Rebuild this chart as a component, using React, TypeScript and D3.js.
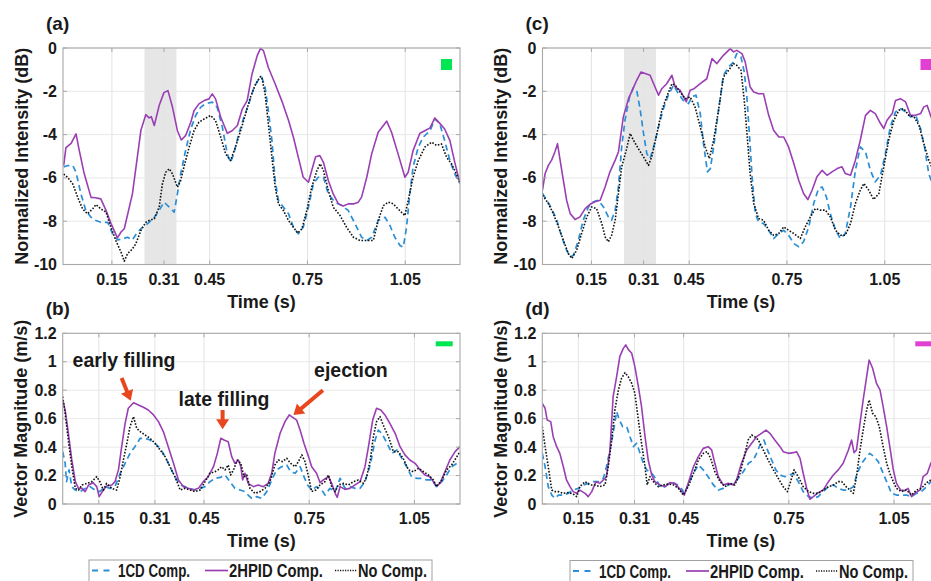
import React from "react";
import * as d3 from "d3";

const FONT = '"Liberation Sans", Arial, Helvetica, sans-serif';
const C_1CD = "#2a8fd6";
const C_2HPID = "#9a3fb3";
const C_NO = "#111111";
const C_ARROW = "#e8461e";
const TXT = "#1a1a1a";

// ---- axes ----
const xTicks = [0.15, 0.31, 0.45, 0.75, 1.05];
const xTickLabels = ["0.15", "0.31", "0.45", "0.75", "1.05"];
const xDomainTop = [0, 1.218];
const xDomainBottom = [0.047, 1.18];
const yTicksTop = [0, -2, -4, -6, -8, -10];
const yTickLabelsTop = ["0", "-2", "-4", "-6", "-8", "-10"];
const yTicksBottom = [0, 0.2, 0.4, 0.6, 0.8, 1, 1.2];
const yTickLabelsBottom = ["0", "0.2", "0.4", "0.6", "0.8", "1", "1.2"];
const shadedBand = [0.25, 0.348];
const seriesNames = ["1CD Comp.", "2HPID Comp.", "No Comp."];

// ---- panel (a): normalized intensity, green region ----
const a_1CD = [[0.002,-5.5],[0.014,-5.43],[0.03,-5.43],[0.04,-5.74],[0.055,-6.74],[0.07,-7.5],[0.086,-7.82],[0.101,-7.97],[0.116,-8.05],[0.137,-8.05],[0.152,-8.58],[0.167,-8.86],[0.183,-8.82],[0.198,-8.74],[0.213,-8.86],[0.229,-8.5],[0.244,-8.28],[0.259,-8.12],[0.28,-7.82],[0.295,-7.5],[0.31,-7.12],[0.326,-7.35],[0.341,-7.58],[0.351,-6.74],[0.361,-5.82],[0.376,-4.74],[0.392,-3.74],[0.407,-3.12],[0.422,-2.74],[0.437,-2.58],[0.458,-2.5],[0.473,-2.74],[0.489,-3.66],[0.504,-4.89],[0.514,-5.28],[0.524,-4.89],[0.539,-3.97],[0.555,-3.2],[0.57,-2.58],[0.586,-1.82],[0.601,-1.43],[0.61,-1.35],[0.62,-1.82],[0.63,-2.89],[0.641,-4.28],[0.651,-6.12],[0.661,-7.05],[0.676,-7.35],[0.692,-7.66],[0.707,-8.28],[0.722,-8.58],[0.737,-8.28],[0.753,-7.35],[0.768,-6.28],[0.783,-5.97],[0.799,-5.97],[0.814,-6.74],[0.834,-7.12],[0.855,-7.28],[0.875,-7.5],[0.896,-8.12],[0.916,-8.74],[0.932,-8.89],[0.947,-8.74],[0.967,-7.97],[0.988,-7.82],[1.003,-8.2],[1.018,-8.74],[1.034,-9.12],[1.044,-9.2],[1.054,-8.28],[1.064,-6.74],[1.074,-5.5],[1.09,-4.58],[1.105,-4.12],[1.126,-3.82],[1.141,-3.28],[1.156,-3.5],[1.171,-4.28],[1.187,-5.2],[1.202,-5.82],[1.217,-6.25]];
const a_2HPID = [[0.002,-5.43],[0.009,-4.6],[0.025,-4.4],[0.04,-3.97],[0.05,-4.74],[0.065,-5.8],[0.086,-6.9],[0.1,-6.92],[0.116,-6.97],[0.132,-7.5],[0.147,-8.1],[0.167,-8.77],[0.178,-8.5],[0.188,-8.35],[0.213,-6.74],[0.239,-3.8],[0.254,-3.08],[0.264,-3.23],[0.271,-3.17],[0.28,-3.58],[0.295,-2.66],[0.31,-2.05],[0.322,-1.97],[0.336,-2.74],[0.351,-3.82],[0.363,-4.25],[0.376,-4.05],[0.392,-3.43],[0.402,-2.9],[0.417,-2.58],[0.433,-2.43],[0.448,-2.35],[0.458,-2.12],[0.468,-2.35],[0.484,-3.2],[0.504,-3.94],[0.519,-3.82],[0.535,-3.58],[0.55,-2.82],[0.565,-2.43],[0.58,-1.2],[0.596,-0.35],[0.606,-0.02],[0.615,-0.12],[0.63,-0.9],[0.651,-1.66],[0.671,-2.43],[0.692,-3.35],[0.707,-4.12],[0.722,-5.05],[0.737,-5.97],[0.753,-6.2],[0.763,-5.66],[0.775,-5.02],[0.788,-4.97],[0.799,-5.28],[0.814,-6.12],[0.829,-6.74],[0.845,-7.2],[0.86,-7.3],[0.875,-7.2],[0.891,-7.2],[0.906,-7.12],[0.916,-6.89],[0.932,-5.97],[0.947,-4.89],[0.967,-3.89],[0.993,-3.38],[1.008,-3.89],[1.028,-4.89],[1.049,-5.97],[1.059,-5.74],[1.074,-4.74],[1.095,-3.94],[1.11,-3.82],[1.126,-3.69],[1.141,-3.23],[1.156,-3.48],[1.171,-3.74],[1.187,-4.28],[1.202,-5.28],[1.217,-6.2]];
const a_No = [[0.002,-5.82],[0.014,-5.97],[0.03,-6.28],[0.045,-6.89],[0.06,-7.43],[0.075,-7.66],[0.091,-7.43],[0.101,-7.23],[0.116,-7.43],[0.132,-7.58],[0.147,-8.28],[0.162,-8.89],[0.178,-9.43],[0.188,-9.85],[0.198,-9.5],[0.213,-9.28],[0.223,-9.05],[0.239,-8.43],[0.254,-8.05],[0.264,-7.97],[0.28,-7.89],[0.295,-7.35],[0.305,-6.28],[0.315,-5.74],[0.326,-5.58],[0.336,-5.82],[0.351,-6.43],[0.361,-6.12],[0.371,-5.5],[0.387,-4.58],[0.402,-3.82],[0.417,-3.43],[0.433,-3.28],[0.453,-3.12],[0.468,-3.35],[0.484,-4.12],[0.499,-4.89],[0.514,-5.2],[0.529,-4.58],[0.545,-3.82],[0.56,-3.05],[0.575,-2.28],[0.591,-1.66],[0.606,-1.32],[0.61,-1.35],[0.62,-2.12],[0.63,-3.5],[0.641,-5.05],[0.651,-6.43],[0.661,-7.2],[0.676,-7.5],[0.692,-7.97],[0.707,-8.28],[0.72,-8.55],[0.733,-8.35],[0.748,-7.5],[0.763,-6.43],[0.779,-5.66],[0.789,-5.35],[0.799,-5.66],[0.814,-6.58],[0.829,-7.35],[0.85,-7.74],[0.87,-8.28],[0.891,-8.74],[0.911,-8.89],[0.932,-8.89],[0.952,-8.89],[0.967,-7.97],[0.983,-7.28],[0.998,-7.12],[1.013,-7.2],[1.028,-7.43],[1.049,-7.74],[1.059,-7.05],[1.074,-5.97],[1.09,-5.2],[1.11,-4.58],[1.131,-4.35],[1.146,-4.5],[1.161,-4.43],[1.177,-5.05],[1.192,-5.35],[1.207,-5.82],[1.217,-6.2]];

// ---- panel (c): normalized intensity, magenta region ----
const c_1CD = [[0,-6.72],[0.013,-7.03],[0.028,-7.42],[0.044,-7.95],[0.059,-8.72],[0.074,-9.34],[0.085,-9.65],[0.095,-9.57],[0.11,-8.88],[0.125,-7.95],[0.141,-7.34],[0.156,-7.1],[0.171,-7.03],[0.187,-7.34],[0.202,-7.8],[0.212,-7.95],[0.223,-7.49],[0.233,-6.42],[0.243,-4.57],[0.253,-3.34],[0.267,-2.26],[0.279,-1.83],[0.289,-1.95],[0.3,-2.88],[0.31,-3.95],[0.32,-4.88],[0.33,-5.11],[0.341,-4.57],[0.356,-3.65],[0.371,-2.8],[0.386,-2.18],[0.402,-1.72],[0.417,-2.11],[0.432,-2.42],[0.448,-2.57],[0.458,-2.26],[0.471,-2.18],[0.484,-3.03],[0.494,-4.42],[0.506,-5.72],[0.515,-5.57],[0.525,-4.57],[0.54,-2.88],[0.555,-1.26],[0.571,-0.88],[0.586,-0.65],[0.596,-0.26],[0.609,-0.42],[0.619,-1.11],[0.627,-2.26],[0.636,-4.26],[0.643,-5.95],[0.653,-7.65],[0.663,-8.03],[0.678,-8.11],[0.694,-8.42],[0.709,-8.8],[0.725,-8.57],[0.74,-8.42],[0.755,-8.65],[0.771,-9.03],[0.786,-9.18],[0.801,-8.95],[0.817,-8.26],[0.832,-7.18],[0.847,-6.49],[0.858,-6.42],[0.871,-6.88],[0.883,-7.65],[0.899,-8.42],[0.914,-8.8],[0.929,-8.57],[0.945,-7.34],[0.96,-5.65],[0.975,-4.57],[0.991,-4.8],[1.006,-5.65],[1.021,-6.18],[1.037,-5.88],[1.052,-4.88],[1.067,-3.65],[1.083,-2.95],[1.098,-2.8],[1.114,-2.95],[1.129,-3.18],[1.145,-3.11],[1.16,-3.72],[1.172,-4.57],[1.185,-5.8],[1.194,-6.18],[1.218,-6.6]];
const c_2HPID = [[0,-6.57],[0.008,-5.8],[0.018,-5.42],[0.028,-5.18],[0.038,-4.8],[0.046,-4.42],[0.054,-5.18],[0.064,-6.11],[0.074,-7.03],[0.085,-7.65],[0.1,-7.92],[0.115,-7.8],[0.131,-7.42],[0.146,-7.22],[0.161,-7.1],[0.177,-7.03],[0.192,-6.42],[0.207,-5.72],[0.223,-5.18],[0.233,-4.8],[0.248,-3.18],[0.264,-2.34],[0.279,-1.83],[0.289,-1.49],[0.302,-1.11],[0.315,-1.18],[0.33,-1.26],[0.341,-1.65],[0.356,-2.18],[0.366,-1.88],[0.381,-1.65],[0.397,-1.26],[0.407,-1.8],[0.422,-1.95],[0.441,-2.49],[0.453,-1.95],[0.465,-1.88],[0.484,-1.65],[0.504,-1.42],[0.52,-0.49],[0.535,-0.72],[0.555,-0.34],[0.576,-0.03],[0.586,-0.18],[0.596,-0.11],[0.612,-0.26],[0.622,-0.65],[0.637,-1.8],[0.648,-2.03],[0.663,-2.11],[0.678,-2.11],[0.694,-3.11],[0.709,-3.8],[0.725,-4.11],[0.74,-4.11],[0.755,-4.57],[0.771,-5.34],[0.786,-6.11],[0.801,-6.72],[0.814,-7.0],[0.827,-6.57],[0.842,-5.95],[0.858,-5.65],[0.873,-5.88],[0.888,-5.72],[0.904,-5.57],[0.919,-5.49],[0.929,-5.8],[0.945,-5.88],[0.96,-5.18],[0.975,-4.26],[0.991,-3.11],[1.006,-2.88],[1.021,-3.03],[1.037,-3.49],[1.047,-3.72],[1.057,-3.34],[1.073,-3.03],[1.083,-2.42],[1.098,-2.34],[1.114,-2.49],[1.129,-3.11],[1.145,-3.11],[1.16,-3.03],[1.17,-2.72],[1.18,-2.65],[1.194,-3.26],[1.218,-4.4]];
const c_No = [[0,-6.8],[0.018,-7.18],[0.033,-7.65],[0.049,-8.26],[0.064,-8.88],[0.079,-9.49],[0.09,-9.72],[0.105,-9.34],[0.12,-8.57],[0.136,-7.8],[0.151,-7.34],[0.166,-7.42],[0.182,-8.11],[0.192,-8.72],[0.202,-8.95],[0.212,-8.65],[0.223,-7.95],[0.233,-6.72],[0.243,-5.49],[0.257,-4.72],[0.269,-3.95],[0.279,-4.26],[0.294,-4.65],[0.31,-5.03],[0.325,-5.42],[0.335,-5.03],[0.351,-3.95],[0.366,-2.88],[0.381,-2.26],[0.397,-1.65],[0.407,-1.72],[0.422,-2.03],[0.438,-2.34],[0.453,-2.26],[0.468,-2.72],[0.484,-3.65],[0.499,-4.57],[0.512,-5.11],[0.525,-4.26],[0.54,-2.88],[0.555,-1.34],[0.571,-1.03],[0.586,-0.72],[0.596,-0.8],[0.609,-1.03],[0.619,-2.42],[0.629,-4.26],[0.637,-5.8],[0.648,-7.18],[0.663,-7.88],[0.678,-7.95],[0.694,-8.42],[0.709,-8.65],[0.725,-8.57],[0.74,-8.26],[0.755,-8.42],[0.771,-8.57],[0.791,-8.8],[0.806,-8.26],[0.822,-7.8],[0.837,-7.42],[0.853,-7.49],[0.868,-7.49],[0.883,-7.8],[0.899,-8.42],[0.914,-8.65],[0.929,-8.65],[0.945,-8.11],[0.96,-7.18],[0.975,-6.57],[0.986,-6.26],[1.001,-6.57],[1.016,-7.0],[1.032,-6.72],[1.047,-5.49],[1.062,-4.26],[1.078,-3.34],[1.093,-2.88],[1.108,-2.8],[1.124,-3.11],[1.14,-3.18],[1.155,-3.57],[1.17,-4.42],[1.185,-5.18],[1.194,-5.49],[1.218,-6.2]];

// ---- panel (b): vector magnitude, green region ----
const b_1CD = [[0.047,0.368],[0.054,0.286],[0.058,0.157],[0.065,0.24],[0.073,0.122],[0.083,0.098],[0.097,0.087],[0.111,0.11],[0.125,0.122],[0.139,0.098],[0.153,0.087],[0.168,0.122],[0.182,0.11],[0.196,0.122],[0.211,0.216],[0.225,0.286],[0.239,0.356],[0.253,0.403],[0.268,0.462],[0.282,0.462],[0.296,0.45],[0.31,0.427],[0.325,0.391],[0.339,0.333],[0.353,0.262],[0.367,0.192],[0.382,0.134],[0.396,0.122],[0.41,0.11],[0.424,0.098],[0.439,0.11],[0.453,0.122],[0.467,0.157],[0.481,0.18],[0.496,0.187],[0.51,0.204],[0.524,0.157],[0.538,0.11],[0.553,0.098],[0.567,0.087],[0.576,0.063],[0.586,0.04],[0.6,0.052],[0.614,0.04],[0.629,0.087],[0.643,0.169],[0.657,0.24],[0.671,0.262],[0.686,0.274],[0.697,0.227],[0.71,0.216],[0.724,0.262],[0.735,0.192],[0.745,0.134],[0.757,0.098],[0.771,0.122],[0.786,0.098],[0.795,0.063],[0.809,0.11],[0.824,0.087],[0.838,0.18],[0.852,0.11],[0.866,0.122],[0.881,0.11],[0.895,0.11],[0.909,0.157],[0.924,0.274],[0.938,0.45],[0.947,0.52],[0.957,0.497],[0.972,0.427],[0.986,0.356],[1.0,0.38],[1.014,0.321],[1.028,0.262],[1.042,0.192],[1.057,0.18],[1.071,0.18],[1.085,0.169],[1.099,0.169],[1.113,0.122],[1.128,0.157],[1.142,0.204],[1.156,0.262],[1.171,0.286],[1.18,0.29]];
const b_2HPID = [[0.047,0.73],[0.054,0.66],[0.063,0.5],[0.073,0.31],[0.083,0.157],[0.092,0.11],[0.102,0.11],[0.111,0.087],[0.121,0.134],[0.134,0.15],[0.144,0.122],[0.151,0.052],[0.163,0.098],[0.172,0.127],[0.187,0.134],[0.196,0.157],[0.206,0.24],[0.215,0.4],[0.225,0.567],[0.234,0.673],[0.249,0.712],[0.263,0.696],[0.277,0.68],[0.291,0.661],[0.306,0.626],[0.32,0.579],[0.334,0.509],[0.348,0.403],[0.363,0.286],[0.377,0.169],[0.391,0.122],[0.405,0.11],[0.42,0.098],[0.434,0.11],[0.448,0.157],[0.462,0.192],[0.477,0.262],[0.488,0.356],[0.498,0.462],[0.507,0.45],[0.519,0.438],[0.529,0.333],[0.538,0.286],[0.548,0.309],[0.555,0.262],[0.56,0.169],[0.567,0.216],[0.576,0.145],[0.591,0.122],[0.605,0.134],[0.619,0.122],[0.633,0.145],[0.643,0.216],[0.652,0.356],[0.667,0.497],[0.681,0.579],[0.693,0.626],[0.703,0.609],[0.714,0.59],[0.724,0.52],[0.735,0.427],[0.748,0.333],[0.757,0.262],[0.771,0.216],[0.781,0.15],[0.79,0.169],[0.805,0.192],[0.814,0.145],[0.824,0.075],[0.83,0.047],[0.838,0.122],[0.852,0.103],[0.866,0.11],[0.881,0.134],[0.895,0.157],[0.909,0.262],[0.919,0.403],[0.931,0.59],[0.942,0.673],[0.954,0.661],[0.966,0.626],[0.98,0.567],[0.995,0.497],[1.009,0.403],[1.023,0.345],[1.037,0.309],[1.052,0.286],[1.066,0.24],[1.08,0.204],[1.094,0.192],[1.104,0.157],[1.113,0.127],[1.123,0.145],[1.137,0.227],[1.151,0.309],[1.166,0.368],[1.18,0.403]];
const b_No = [[0.047,0.755],[0.054,0.637],[0.063,0.45],[0.073,0.262],[0.083,0.11],[0.092,0.098],[0.102,0.134],[0.116,0.145],[0.13,0.157],[0.144,0.192],[0.153,0.157],[0.163,0.098],[0.172,0.145],[0.187,0.11],[0.201,0.098],[0.211,0.192],[0.22,0.309],[0.23,0.427],[0.239,0.544],[0.249,0.614],[0.258,0.532],[0.268,0.509],[0.282,0.485],[0.296,0.462],[0.31,0.427],[0.325,0.38],[0.339,0.333],[0.353,0.262],[0.367,0.192],[0.382,0.098],[0.396,0.11],[0.41,0.098],[0.424,0.087],[0.439,0.098],[0.453,0.157],[0.467,0.216],[0.481,0.227],[0.49,0.24],[0.5,0.262],[0.51,0.24],[0.519,0.274],[0.526,0.204],[0.534,0.24],[0.545,0.309],[0.555,0.286],[0.564,0.192],[0.572,0.204],[0.581,0.11],[0.595,0.075],[0.61,0.087],[0.624,0.11],[0.638,0.157],[0.652,0.274],[0.662,0.309],[0.674,0.298],[0.686,0.321],[0.697,0.286],[0.71,0.262],[0.719,0.298],[0.729,0.345],[0.738,0.298],[0.748,0.192],[0.757,0.087],[0.769,0.098],[0.781,0.134],[0.795,0.157],[0.805,0.204],[0.814,0.122],[0.824,0.087],[0.833,0.134],[0.848,0.145],[0.862,0.134],[0.876,0.157],[0.89,0.169],[0.905,0.145],[0.914,0.192],[0.924,0.309],[0.933,0.473],[0.942,0.579],[0.952,0.614],[0.961,0.555],[0.976,0.473],[0.99,0.368],[1.004,0.368],[1.018,0.321],[1.033,0.24],[1.047,0.227],[1.062,0.251],[1.076,0.227],[1.09,0.204],[1.104,0.169],[1.113,0.122],[1.128,0.169],[1.142,0.24],[1.156,0.274],[1.171,0.333],[1.18,0.368]];

// ---- panel (d): vector magnitude, magenta region ----
const d_1CD = [[0.047,0.356],[0.055,0.262],[0.064,0.122],[0.074,0.063],[0.083,0.04],[0.093,0.063],[0.107,0.063],[0.121,0.075],[0.135,0.098],[0.15,0.11],[0.164,0.134],[0.178,0.145],[0.192,0.157],[0.207,0.157],[0.221,0.18],[0.23,0.262],[0.24,0.38],[0.249,0.497],[0.259,0.649],[0.267,0.59],[0.276,0.544],[0.288,0.544],[0.297,0.473],[0.307,0.403],[0.316,0.427],[0.326,0.356],[0.335,0.286],[0.345,0.24],[0.359,0.216],[0.373,0.169],[0.383,0.117],[0.397,0.122],[0.411,0.145],[0.425,0.145],[0.44,0.122],[0.452,0.075],[0.463,0.134],[0.478,0.216],[0.492,0.274],[0.506,0.24],[0.52,0.192],[0.535,0.134],[0.549,0.098],[0.563,0.11],[0.577,0.134],[0.592,0.145],[0.606,0.18],[0.62,0.227],[0.635,0.286],[0.649,0.309],[0.658,0.356],[0.67,0.427],[0.679,0.45],[0.689,0.38],[0.701,0.309],[0.713,0.24],[0.725,0.204],[0.739,0.192],[0.753,0.204],[0.763,0.216],[0.777,0.157],[0.791,0.087],[0.806,0.052],[0.82,0.04],[0.834,0.052],[0.848,0.087],[0.863,0.122],[0.877,0.134],[0.891,0.11],[0.905,0.098],[0.92,0.098],[0.934,0.122],[0.945,0.216],[0.958,0.286],[0.972,0.333],[0.981,0.356],[0.993,0.333],[1.005,0.298],[1.019,0.216],[1.033,0.134],[1.043,0.075],[1.057,0.063],[1.071,0.063],[1.085,0.063],[1.1,0.052],[1.114,0.075],[1.128,0.087],[1.143,0.122],[1.155,0.157],[1.18,0.2]];
const d_2HPID = [[0.047,0.708],[0.055,0.673],[0.061,0.59],[0.071,0.579],[0.078,0.473],[0.088,0.403],[0.097,0.356],[0.107,0.262],[0.116,0.169],[0.126,0.122],[0.135,0.087],[0.145,0.075],[0.154,0.098],[0.169,0.075],[0.178,0.052],[0.188,0.087],[0.2,0.157],[0.211,0.145],[0.221,0.169],[0.23,0.192],[0.24,0.38],[0.249,0.755],[0.259,0.895],[0.268,1.036],[0.278,1.094],[0.285,1.118],[0.292,1.087],[0.302,1.06],[0.311,0.966],[0.321,0.825],[0.33,0.684],[0.34,0.473],[0.349,0.309],[0.359,0.204],[0.368,0.157],[0.383,0.134],[0.397,0.122],[0.411,0.15],[0.425,0.145],[0.44,0.103],[0.452,0.063],[0.463,0.145],[0.478,0.262],[0.492,0.333],[0.506,0.391],[0.52,0.403],[0.53,0.38],[0.539,0.286],[0.549,0.192],[0.563,0.134],[0.577,0.145],[0.592,0.134],[0.601,0.169],[0.615,0.286],[0.63,0.38],[0.644,0.427],[0.658,0.473],[0.672,0.497],[0.685,0.52],[0.696,0.497],[0.71,0.45],[0.725,0.403],[0.734,0.368],[0.749,0.356],[0.763,0.361],[0.772,0.368],[0.782,0.321],[0.791,0.216],[0.801,0.11],[0.81,0.033],[0.82,0.052],[0.834,0.08],[0.848,0.098],[0.863,0.157],[0.877,0.204],[0.891,0.24],[0.905,0.286],[0.92,0.38],[0.929,0.45],[0.936,0.361],[0.943,0.38],[0.953,0.567],[0.962,0.731],[0.972,0.895],[0.979,1.012],[0.989,0.954],[1.0,0.848],[1.01,0.802],[1.019,0.684],[1.029,0.544],[1.038,0.403],[1.048,0.24],[1.057,0.145],[1.069,0.098],[1.081,0.094],[1.09,0.11],[1.1,0.052],[1.109,0.075],[1.124,0.098],[1.133,0.192],[1.145,0.216],[1.155,0.286],[1.17,0.36],[1.18,0.4]];
const d_No = [[0.047,0.544],[0.055,0.403],[0.064,0.262],[0.074,0.098],[0.083,0.087],[0.093,0.087],[0.107,0.075],[0.121,0.08],[0.135,0.07],[0.145,0.052],[0.154,0.122],[0.169,0.157],[0.183,0.134],[0.197,0.134],[0.211,0.122],[0.226,0.134],[0.235,0.262],[0.245,0.45],[0.254,0.661],[0.264,0.802],[0.273,0.884],[0.283,0.923],[0.292,0.895],[0.302,0.848],[0.311,0.778],[0.321,0.59],[0.33,0.427],[0.34,0.262],[0.346,0.134],[0.354,0.192],[0.364,0.157],[0.378,0.122],[0.392,0.134],[0.406,0.141],[0.421,0.134],[0.435,0.11],[0.449,0.063],[0.463,0.122],[0.478,0.216],[0.492,0.309],[0.506,0.356],[0.517,0.368],[0.527,0.321],[0.539,0.227],[0.554,0.157],[0.568,0.122],[0.582,0.145],[0.596,0.134],[0.611,0.216],[0.625,0.356],[0.634,0.45],[0.644,0.485],[0.653,0.473],[0.663,0.45],[0.677,0.38],[0.691,0.309],[0.706,0.24],[0.72,0.18],[0.734,0.122],[0.746,0.087],[0.755,0.157],[0.765,0.24],[0.777,0.192],[0.791,0.122],[0.806,0.087],[0.82,0.075],[0.834,0.075],[0.848,0.098],[0.863,0.122],[0.877,0.134],[0.891,0.157],[0.901,0.157],[0.913,0.122],[0.924,0.098],[0.934,0.075],[0.943,0.192],[0.953,0.38],[0.962,0.52],[0.972,0.661],[0.979,0.731],[0.989,0.637],[0.998,0.614],[1.008,0.544],[1.019,0.403],[1.029,0.286],[1.038,0.216],[1.048,0.157],[1.057,0.11],[1.071,0.087],[1.085,0.098],[1.1,0.063],[1.114,0.098],[1.128,0.11],[1.143,0.15],[1.155,0.169],[1.18,0.2]];

// ---- annotations in panel (b), data coordinates ----
const annotLabels = ["early filling", "late filling", "ejection"];
const annotTextPos = [[0.222, 0.963], [0.507, 0.689], [0.869, 0.893]];
const annotArrowFrom = [[0.215, 0.886], [0.503, 0.661], [0.789, 0.8]];
const annotArrowTo = [[0.241, 0.726], [0.503, 0.525], [0.705, 0.626]];

type Pt = number[];

interface PanelProps {
  id: string;
  left: number; top: number; width: number; height: number;
  xDomain: number[]; yDomain: number[];
  yTicks: number[]; yLabels: string[];
  series: Pt[][];
  band?: number[];
  label: string;
  yTitle: string;
  regionColor: string;
  regionShape: "square" | "bar";
  annotations?: boolean;
}

const styles = [
  { color: C_1CD, width: 1.7, dash: "6,4" },
  { color: C_2HPID, width: 1.6, dash: undefined },
  { color: C_NO, width: 1.6, dash: "1.6,1.6" },
];

function Panel(p: PanelProps) {
  const x = d3.scaleLinear().domain(p.xDomain).range([p.left, p.left + p.width]);
  const y = d3.scaleLinear().domain(p.yDomain).range([p.top + p.height, p.top]);
  const line = d3.line<Pt>().x((d) => x(d[0])).y((d) => y(d[1]));
  const right = p.left + p.width;
  const bottom = p.top + p.height;
  const tk = 4;
  return (
    <g>
      <defs>
        <clipPath id={p.id}>
          <rect x={p.left} y={p.top - 2} width={p.width} height={p.height + 4} />
        </clipPath>
      </defs>
      <rect x={p.left} y={p.top} width={p.width} height={p.height} fill="#ffffff" />
      {p.band && (
        <rect x={x(p.band[0])} y={p.top} width={x(p.band[1]) - x(p.band[0])} height={p.height} fill="#e6e6e6" />
      )}
      {xTicks.map((t) => (
        <line key={"gx" + t} x1={x(t)} x2={x(t)} y1={p.top} y2={bottom} stroke="#e4e4e4" strokeWidth={1} />
      ))}
      {p.yTicks.map((t) => (
        <line key={"gy" + t} x1={p.left} x2={right} y1={y(t)} y2={y(t)} stroke="#e8e8e8" strokeWidth={1} />
      ))}
      <g clipPath={`url(#${p.id})`}>
        {p.series.map((s, i) => (
          <path key={i} d={line(s) || ""} fill="none" stroke={styles[i].color} strokeWidth={styles[i].width}
            strokeDasharray={styles[i].dash} strokeLinejoin="round" />
        ))}
      </g>
      <rect x={p.left} y={p.top} width={p.width} height={p.height} fill="none" stroke="#a8a8a8" strokeWidth={1.1} />
      {xTicks.map((t) => (
        <g key={"tx" + t} stroke="#a8a8a8" strokeWidth={1}>
          <line x1={x(t)} x2={x(t)} y1={bottom} y2={bottom - tk} />
          <line x1={x(t)} x2={x(t)} y1={p.top} y2={p.top + tk} />
        </g>
      ))}
      {p.yTicks.map((t) => (
        <g key={"ty" + t} stroke="#a8a8a8" strokeWidth={1}>
          <line x1={p.left} x2={p.left + tk} y1={y(t)} y2={y(t)} />
          <line x1={right} x2={right - tk} y1={y(t)} y2={y(t)} />
        </g>
      ))}
      {p.regionShape === "square" ? (
        <rect x={p.left + 378} y={p.top + 11} width={11} height={11} fill={p.regionColor} />
      ) : (
        <rect x={p.left + 373} y={p.top + 8} width={17} height={5} fill={p.regionColor} />
      )}
      {xTicks.map((t, i) => (
        <text key={"xt" + t} x={x(t)} y={bottom + 20} textAnchor="middle" fontSize={16} fontWeight="bold" fill={TXT}>
          {xTickLabels[i]}
        </text>
      ))}
      {p.yTicks.map((t, i) => (
        <text key={"yt" + t} x={p.left - 6} y={y(t) + 5.5} textAnchor="end" fontSize={16} fontWeight="bold" fill={TXT}>
          {p.yLabels[i]}
        </text>
      ))}
      <text x={p.left + p.width / 2} y={bottom + 43} textAnchor="middle" fontSize={18} fontWeight="bold" fill={TXT}>
        Time (s)
      </text>
      <text transform={`translate(${p.left - 35.5},${p.top + p.height / 2}) rotate(-90)`} textAnchor="middle"
        fontSize={18} fontWeight="bold" fill={TXT}>
        {p.yTitle}
      </text>
      <text x={p.left - 17} y={p.top - 18} fontSize={19} fontWeight="bold" fill={TXT}>
        {p.label}
      </text>
      {p.annotations && annotLabels.map((lab, i) => {
        const x1 = x(annotArrowFrom[i][0]), y1 = y(annotArrowFrom[i][1]);
        const x2 = x(annotArrowTo[i][0]), y2 = y(annotArrowTo[i][1]);
        const dx = x2 - x1, dy = y2 - y1;
        const len = Math.hypot(dx, dy);
        const ux = dx / len, uy = dy / len;
        const headL = 10, headW = 6.5;
        const bx = x2 - ux * headL, by = y2 - uy * headL;
        const pts = [[x2, y2], [bx - uy * headW, by + ux * headW], [bx + uy * headW, by - ux * headW]];
        return (
          <g key={"an" + i}>
            <text x={x(annotTextPos[i][0])} y={y(annotTextPos[i][1])} textAnchor="middle" fontSize={19.5}
              fontWeight="bold" fill={TXT}>{lab}</text>
            <line x1={x1} y1={y1} x2={bx + ux * 1} y2={by + uy * 1} stroke={C_ARROW} strokeWidth={4} />
            <polygon points={pts.map((q) => q.join(",")).join(" ")} fill={C_ARROW} />
          </g>
        );
      })}
    </g>
  );
}

function Legend({ left, top }: { left: number; top: number }) {
  const ly = top + 10.5;
  const ty = top + 17;
  return (
    <g>
      <rect x={left} y={top} width={343} height={40} fill="#ffffff" stroke="#a0a0a0" strokeWidth={1} />
      <line x1={left + 3} x2={left + 22} y1={ly} y2={ly} stroke={C_1CD} strokeWidth={1.8} strokeDasharray="6,5.5" />
      <text x={left + 29} y={ty} fontSize={18.5} fontWeight="bold" fill={TXT} textLength={72} lengthAdjust="spacingAndGlyphs">{seriesNames[0]}</text>
      <line x1={left + 116} x2={left + 139} y1={ly} y2={ly} stroke={C_2HPID} strokeWidth={1.7} />
      <text x={left + 140} y={ty} fontSize={18.5} fontWeight="bold" fill={TXT} textLength={94} lengthAdjust="spacingAndGlyphs">{seriesNames[1]}</text>
      <line x1={left + 246} x2={left + 268} y1={ly} y2={ly} stroke={C_NO} strokeWidth={1.3} strokeDasharray="1.2,1.3" />
      <text x={left + 269} y={ty} fontSize={18.5} fontWeight="bold" fill={TXT} textLength={69} lengthAdjust="spacingAndGlyphs">{seriesNames[2]}</text>
    </g>
  );
}

export default function App() {
  return (
    <div style={{ position: "absolute", left: 0, top: 0, width: 931, height: 581, overflow: "hidden", background: "#fff" }}>
      <svg width={931} height={581} viewBox="0 0 931 581" style={{ display: "block", fontFamily: FONT }}>
        <rect x={0} y={0} width={931} height={581} fill="#ffffff" />
        <Panel id="clipA" left={63} top={48} width={397} height={216.5} xDomain={xDomainTop} yDomain={[-10, 0]}
          yTicks={yTicksTop} yLabels={yTickLabelsTop} series={[a_1CD, a_2HPID, a_No]} band={shadedBand}
          label="(a)" yTitle="Normalized Intensity (dB)" regionColor="#00e653" regionShape="square" />
        <Panel id="clipC" left={542.5} top={48} width={397} height={216.5} xDomain={xDomainTop} yDomain={[-10, 0]}
          yTicks={yTicksTop} yLabels={yTickLabelsTop} series={[c_1CD, c_2HPID, c_No]} band={shadedBand}
          label="(c)" yTitle="Normalized Intensity (dB)" regionColor="#e23fd3" regionShape="square" />
        <Panel id="clipB" left={62.7} top={333.3} width={397.3} height={170.7} xDomain={xDomainBottom} yDomain={[0, 1.2]}
          yTicks={yTicksBottom} yLabels={yTickLabelsBottom} series={[b_1CD, b_2HPID, b_No]}
          label="(b)" yTitle="Vector Magnitude (m/s)" regionColor="#00e653" regionShape="bar" annotations />
        <Panel id="clipD" left={542.3} top={333.3} width={397.3} height={170.7} xDomain={xDomainBottom} yDomain={[0, 1.2]}
          yTicks={yTicksBottom} yLabels={yTickLabelsBottom} series={[d_1CD, d_2HPID, d_No]}
          label="(d)" yTitle="Vector Magnitude (m/s)" regionColor="#e23fd3" regionShape="bar" />
        <Legend left={89} top={560} />
        <Legend left={570} top={560.5} />
      </svg>
    </div>
  );
}
